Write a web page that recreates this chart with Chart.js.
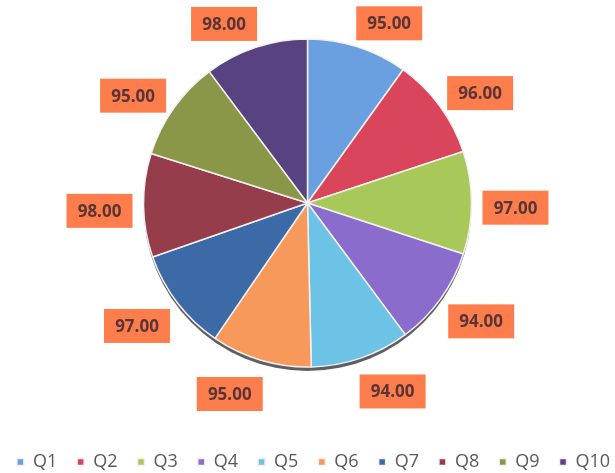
<!DOCTYPE html>
<html>
<head>
<meta charset="utf-8">
<script src="https://cdn.jsdelivr.net/npm/chart.js@4"></script>
<style>
    html, body { margin: 0; padding: 0; background: #fff; }
    #wrap { width: 615px; height: 473px; }
</style>
</head>
<body>
<div id="wrap"><canvas id="pieChart"></canvas></div>
<script>
const labels = ['Q1', 'Q2', 'Q3', 'Q4', 'Q5', 'Q6', 'Q7', 'Q8', 'Q9', 'Q10'];
const values = [95, 96, 97, 94, 94, 95, 97, 98, 95, 98];
const colors = ['#6a9fe0', '#d9465c', '#a9c85a', '#8a6ccc', '#6cc3e6',
                '#f7995a', '#3b6aa6', '#963d4c', '#8a9748', '#56437f'];

// dark rim under the pie, like the tilted office pie
const rimShadow = {
    id: 'rimShadow',
    beforeDatasetsDraw(chart) {
        const arc = chart.getDatasetMeta(0).data[0];
        if (!arc) return;
        const ctx = chart.ctx;
        ctx.save();
        ctx.beginPath();
        ctx.ellipse(arc.x, arc.y + 3, arc.outerRadius, arc.outerRadius + 1, 0, 0, Math.PI * 2);
        ctx.fillStyle = 'rgba(40,40,50,0.75)';
        ctx.fill();
        ctx.restore();
    }
};

// orange value boxes outside each slice
const valueBoxes = {
    id: 'valueBoxes',
    afterDatasetsDraw(chart) {
        const ctx = chart.ctx;
        const meta = chart.getDatasetMeta(0);
        ctx.save();
        ctx.font = 'bold 17px "Open Sans", sans-serif';
        ctx.textAlign = 'center';
        ctx.textBaseline = 'middle';
        meta.data.forEach((arc, i) => {
            const mid = (arc.startAngle + arc.endAngle) / 2;
            const c = Math.cos(mid), s = Math.sin(mid);
            // labels sit a bit wider than the slice and are pushed sideways near top/bottom
            const x = arc.x + c * (arc.outerRadius + 18) + Math.sign(c) * 26;
            const y = arc.y + 5 + s * (arc.outerRadius + 30);
            ctx.fillStyle = '#fd7d4d';
            ctx.fillRect(x - 33, y - 17, 66, 34);
            ctx.fillStyle = '#5a3535';
            ctx.fillText(values[i].toFixed(2), x, y + 1);
        });
        ctx.restore();
    }
};

new Chart(document.getElementById('pieChart'), {
    type: 'pie',
    data: {
        labels: labels,
        datasets: [{
            data: values,
            backgroundColor: colors,
            borderColor: '#f4f0f0',
            borderWidth: 1.5,
            radius: 164
        }]
    },
    options: {
        responsive: true,
        maintainAspectRatio: false,
        animation: false,
        layout: { padding: { top: 0, bottom: -8, left: -14, right: -26 } },
        plugins: {
            legend: {
                position: 'bottom',
                // blank title only adds room between pie and legend row
                title: {
                    display: true,
                    text: ' ',
                    font: { size: 1, lineHeight: 1 },
                    padding: { top: 26, bottom: 0 }
                },
                labels: {
                    boxWidth: 7,
                    boxHeight: 7,
                    padding: 20,
                    color: '#595959',
                    font: { family: '"Open Sans", sans-serif', size: 18 }
                }
            },
            tooltip: { enabled: false }
        }
    },
    plugins: [rimShadow, valueBoxes]
});
</script>
</body>
</html>
